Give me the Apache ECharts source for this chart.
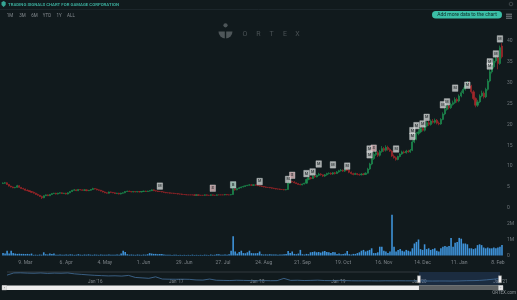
<!DOCTYPE html>
<html><head><meta charset="utf-8">
<script src="https://cdn.jsdelivr.net/npm/echarts/dist/echarts.min.js"></script>
<style>html,body{margin:0;padding:0;background:#111a1d;}#c{width:517px;height:300px;}</style>
</head><body><div id="c"></div>
<script>
// ---------- DATA ----------
const titleText = 'TRADING SIGNALS CHART FOR GAMAGE CORPORATION';
const rangeButtons = ['1M','3M','6M','YTD','1Y','ALL'];
const holidays = ['2020-04-10','2020-05-25','2020-07-03','2020-09-07','2020-11-26','2020-12-25','2021-01-01','2021-01-18'];
const startDate = '2020-02-21';
const tickDates = ['2020-03-09','2020-04-06','2020-05-04','2020-06-01','2020-06-29','2020-07-27','2020-08-24','2020-09-21','2020-10-19','2020-11-16','2020-12-14','2021-01-11','2021-02-08'];
const tickLabels = ['9. Mar','6. Apr','4. May','1. Jun','29. Jun','27. Jul','24. Aug','21. Sep','19. Oct','16. Nov','14. Dec','11. Jan','8. Feb'];

const open = [
5.8,5.9,6.0,5.6,5.2,5.0,4.8,4.9,5.3,4.9,
4.6,4.5,4.2,4.1,3.9,3.7,3.5,3.2,3.0,2.7,
2.4,2.9,3.1,2.9,3.2,3.4,3.5,3.3,3.5,3.6,
3.4,3.5,3.3,3.6,3.9,4.2,4.3,4.1,4.4,4.3,
4.2,4.3,4.1,4.2,4.4,4.6,4.5,4.3,4.2,4.0,
3.8,3.6,3.5,3.8,3.7,3.6,3.4,3.5,3.3,3.5,
3.6,3.9,4.0,3.9,3.8,3.9,3.8,3.9,3.8,3.9,
4.0,3.9,4.0,4.1,4.3,4.1,4.0,3.9,3.9,3.8,
3.7,3.6,3.6,3.5,3.5,3.4,3.4,3.3,3.3,3.2,
3.2,3.1,3.1,3.1,3.1,3.0,3.1,3.0,3.0,3.0,
3.1,3.0,3.0,3.1,3.0,3.0,3.1,3.1,3.1,3.1,
3.2,3.1,3.1,3.2,4.5,4.3,4.6,4.8,5.0,5.1,
5.3,5.4,5.5,5.4,5.5,5.4,5.3,5.2,5.1,5.0,
4.9,4.9,4.8,4.7,4.6,4.5,4.5,4.4,4.4,4.3,
4.4,5.9,6.3,6.2,6.0,5.8,5.6,5.5,5.7,5.9,
6.8,7.2,7.0,7.6,7.4,7.8,8.1,7.9,7.6,7.9,
8.2,8.3,8.1,8.4,8.2,8.6,8.9,9.0,8.8,9.2,
9.0,8.5,8.2,8.0,8.2,8.0,7.9,8.1,8.0,8.3,
9.3,10.5,11.8,12.8,13.2,12.6,13.5,14.2,13.8,14.5,
14.0,13.6,12.4,12.0,11.6,12.3,12.9,13.4,13.2,13.6,
13.4,13.8,15.8,16.5,17.8,18.2,19.0,18.6,19.6,20.4,
20.0,20.8,20.5,21.0,20.3,20.1,21.2,22.5,23.6,24.4,
24.0,24.8,25.2,26.0,25.6,26.8,27.6,28.4,29.3,29.9,
29.2,27.8,26.2,24.6,25.4,26.8,27.5,26.6,28.4,30.4,
32.6,33.8,35.2,35.9,34.6,38.8];
const close = [
5.9,6.0,5.6,5.2,5.0,4.8,4.9,5.3,4.9,4.6,
4.5,4.2,4.1,3.9,3.7,3.5,3.2,3.0,2.7,2.4,
2.9,3.1,2.9,3.2,3.4,3.5,3.3,3.5,3.6,3.4,
3.5,3.3,3.6,3.9,4.2,4.3,4.1,4.4,4.3,4.2,
4.3,4.1,4.2,4.4,4.6,4.5,4.3,4.2,4.0,3.8,
3.6,3.5,3.8,3.7,3.6,3.4,3.5,3.3,3.5,3.6,
3.9,4.0,3.9,3.8,3.9,3.8,3.9,3.8,3.9,4.0,
3.9,4.0,4.1,4.3,4.1,4.0,3.9,3.9,3.8,3.7,
3.6,3.6,3.5,3.5,3.4,3.4,3.3,3.3,3.2,3.2,
3.1,3.1,3.1,3.1,3.0,3.1,3.0,3.0,3.0,3.1,
3.0,3.0,3.1,3.0,3.0,3.1,3.1,3.1,3.1,3.2,
3.1,3.1,3.2,4.5,4.3,4.6,4.8,5.0,5.1,5.3,
5.4,5.5,5.4,5.5,5.4,5.3,5.2,5.1,5.0,4.9,
4.9,4.8,4.7,4.6,4.5,4.5,4.4,4.4,4.3,4.4,
5.9,6.3,6.2,6.0,5.8,5.6,5.5,5.7,5.9,6.8,
7.2,7.0,7.6,7.4,7.8,8.1,7.9,7.6,7.9,8.2,
8.3,8.1,8.4,8.2,8.6,8.9,9.0,8.8,9.2,9.0,
8.5,8.2,8.0,8.2,8.0,7.9,8.1,8.0,8.3,9.3,
10.5,11.8,12.8,13.2,12.6,13.5,14.2,13.8,14.5,14.0,
13.6,12.4,12.0,11.6,12.3,12.9,13.4,13.2,13.6,13.4,
13.8,15.8,16.5,17.8,18.2,19.0,18.6,19.6,20.4,20.0,
20.8,20.5,21.0,20.3,20.1,21.2,22.5,23.6,24.4,24.0,
24.8,25.2,26.0,25.6,26.8,27.6,28.4,29.3,29.9,29.2,
27.8,26.2,24.6,25.4,26.8,27.5,26.6,28.4,30.4,32.6,
33.8,35.2,35.9,34.6,38.4,36.2];
const high = [
6.1,6.2,6.1,5.7,5.3,5.1,5.0,5.5,5.4,5.0,
4.8,4.6,4.4,4.2,4.0,3.9,3.6,3.4,3.1,2.9,
3.0,3.2,3.2,3.3,3.5,3.6,3.6,3.6,3.7,3.7,
3.6,3.6,3.7,4.0,4.3,4.5,4.4,4.5,4.5,4.4,
4.4,4.4,4.3,4.5,4.8,4.7,4.6,4.4,4.3,4.1,
3.9,3.7,3.9,3.9,3.8,3.7,3.6,3.6,3.6,3.7,
4.0,4.1,4.1,4.0,4.0,4.0,4.0,4.0,4.0,4.1,
4.1,4.1,4.2,4.4,4.4,4.2,4.1,4.0,4.0,3.9,
3.8,3.7,3.7,3.6,3.6,3.5,3.5,3.4,3.4,3.3,
3.3,3.2,3.2,3.2,3.2,3.2,3.2,3.1,3.1,3.2,
3.2,3.1,3.2,3.2,3.1,3.2,3.2,3.2,3.2,3.3,
3.3,3.2,3.3,4.7,4.6,4.8,5.0,5.1,5.3,5.4,
5.5,5.7,5.6,5.6,5.6,5.5,5.4,5.3,5.2,5.1,
5.0,5.0,4.9,4.8,4.7,4.6,4.6,4.5,4.5,4.5,
6.1,6.6,6.5,6.4,6.1,5.9,5.8,5.8,6.0,7.0,
7.5,7.4,7.8,7.8,8.0,8.4,8.3,8.0,8.1,8.4,
8.5,8.5,8.6,8.6,8.8,9.1,9.3,9.2,9.4,9.5,
9.1,8.7,8.4,8.4,8.3,8.2,8.3,8.3,8.5,9.6,
10.8,12.2,13.3,13.8,13.6,13.9,14.8,14.6,15.0,14.9,
14.3,13.8,12.8,12.3,12.5,13.1,13.7,13.7,13.9,13.9,
14.1,16.2,16.9,18.2,18.8,19.4,19.3,19.9,20.8,20.9,
21.2,21.3,21.4,21.3,20.7,21.5,22.9,24.0,24.9,24.8,
25.2,25.7,26.5,26.4,27.2,28.1,28.9,29.8,30.4,30.3,
29.5,28.2,26.5,25.9,27.2,28.1,27.9,28.8,30.9,33.2,
34.5,35.8,36.6,36.3,38.9,39.5];
const low = [
5.7,5.8,5.5,5.1,4.9,4.7,4.7,4.8,4.8,4.5,
4.4,4.1,4.0,3.8,3.6,3.4,3.1,2.9,2.6,2.1,
2.3,2.8,2.8,2.8,3.1,3.3,3.2,3.2,3.4,3.3,
3.3,3.2,3.2,3.5,3.8,4.1,4.0,4.0,4.2,4.1,
4.1,4.0,4.0,4.1,4.3,4.4,4.2,4.1,3.9,3.7,
3.5,3.4,3.4,3.6,3.5,3.3,3.3,3.2,3.2,3.4,
3.5,3.8,3.8,3.7,3.7,3.7,3.7,3.7,3.7,3.8,
3.8,3.8,3.9,4.0,4.0,3.9,3.8,3.8,3.7,3.6,
3.5,3.5,3.4,3.4,3.3,3.3,3.2,3.2,3.1,3.1,
3.0,3.0,3.0,3.0,2.9,2.9,2.9,2.9,2.9,2.9,
2.9,2.9,2.9,2.9,2.9,2.9,3.0,3.0,3.0,3.0,
3.0,3.0,3.0,3.1,4.1,4.2,4.5,4.7,4.9,5.0,
5.2,5.3,5.3,5.3,5.3,5.2,5.1,5.0,4.9,4.8,
4.8,4.7,4.6,4.5,4.4,4.4,4.3,4.3,4.2,4.2,
4.3,5.7,6.0,5.9,5.7,5.5,5.4,5.4,5.6,5.8,
6.6,6.8,6.9,7.2,7.3,7.6,7.7,7.4,7.4,7.7,
8.0,7.9,7.9,8.0,8.1,8.4,8.7,8.6,8.6,8.8,
8.3,8.0,7.8,7.9,7.8,7.7,7.8,7.8,7.9,8.2,
9.1,10.2,11.5,12.4,12.2,12.3,13.2,13.4,13.5,13.7,
13.4,12.2,11.8,11.3,11.4,12.1,12.7,13.0,13.0,13.2,
13.2,13.6,15.5,16.2,17.4,17.9,18.3,18.3,19.3,19.6,
19.7,20.2,20.2,20.0,19.8,19.9,21.0,22.2,23.3,23.6,
23.7,24.5,24.9,25.2,25.3,26.5,27.3,28.1,28.9,28.8,
27.4,25.8,24.1,24.2,25.1,26.5,26.2,26.3,28.1,30.1,
32.2,33.4,34.8,33.2,34.3,35.8];
// volume in millions
const volume = [
0.15,0.12,0.3,0.12,0.3,0.15,0.12,0.1,0.11,0.1,
0.1,0.09,0.1,0.08,0.12,0.04,0.05,0.04,0.06,0.05,
0.2,0.08,0.06,0.12,0.1,0.12,0.05,0.04,0.06,0.05,
0.04,0.06,0.05,0.07,0.06,0.04,0.05,0.08,0.05,0.04,
0.06,0.05,0.07,0.05,0.04,0.06,0.05,0.04,0.06,0.05,
0.04,0.05,0.06,0.04,0.05,0.04,0.06,0.05,0.12,0.3,
0.22,0.08,0.05,0.06,0.05,0.04,0.06,0.05,0.04,0.06,
0.05,0.08,0.15,0.12,0.1,0.1,0.08,0.1,0.09,0.06,
0.05,0.04,0.05,0.03,0.04,0.05,0.03,0.04,0.03,0.04,
0.03,0.04,0.03,0.05,0.03,0.04,0.03,0.04,0.03,0.05,
0.04,0.03,0.06,0.04,0.05,0.08,0.08,0.04,0.05,0.06,
0.05,0.08,0.3,1.2,0.25,0.12,0.22,0.3,0.15,0.14,
0.2,0.3,0.15,0.14,0.14,0.15,0.25,0.08,0.06,0.07,
0.06,0.08,0.06,0.07,0.06,0.05,0.07,0.06,0.08,0.1,
0.28,0.15,0.25,0.1,0.08,0.12,0.35,0.08,0.06,0.1,
0.08,0.2,0.22,0.25,0.2,0.22,0.18,0.25,0.28,0.22,
0.2,0.15,0.22,0.2,0.1,0.12,0.08,0.1,0.12,0.28,
0.08,0.06,0.1,0.1,0.15,0.2,0.3,0.35,0.25,0.3,
0.35,0.45,0.15,0.15,0.2,0.55,0.55,0.3,0.25,0.15,
0.25,2.55,0.55,0.25,0.35,0.4,0.3,0.25,0.35,0.3,
0.25,0.45,0.75,0.85,1.0,0.4,0.35,0.7,0.4,0.45,
0.35,0.4,0.45,0.3,0.25,0.45,0.55,0.6,0.55,0.6,
1.1,0.55,0.8,0.85,1.1,1.05,0.75,0.75,0.7,0.45,
0.45,0.4,0.45,0.65,0.7,0.65,0.5,0.45,0.5,0.45,
0.45,0.5,0.45,0.5,0.55,0.65];
// trading signal flags: day index, price level of flag, type
const signalIdx   = [77,103,113,126,140,142,149,152,155,162,169,180,180,182,193,201,201,203,206,208,216,218,222,228,239,239,242,244];
const signalPrice = [5.2,4.7,5.5,6.3,6.8,7.8,8.2,8.6,10.5,10.3,10.0,12.7,14.1,14.3,14.1,18.5,17.1,19.7,20.1,21.7,24.7,25.4,28.7,29.4,35.0,34.0,36.9,40.5];
const signalType  = ['M','S','B','M','M','S','M','M','M','M','M','M','M','S','M','M','M','M','M','M','M','M','M','M','M','M','M','M'];
// navigator (monthly, Jan 2015 - Feb 2021)
const navStart = [2015, 1];
const navValues = [83,112,114,110,108,112,106,110,108,112,100,93,86,80,76,72,74,70,79,52,46,40,60,30,28,27,28,26,18,16,30,14,12,10,14,12,10,8,10,8,9,39,12,14,10,12,15,10,9,12,10,7,6,7,6,5,7,6,7,6,6,5,4,3,4,4,3,5,8,9,12,19,28,38];
const navTickDates = ['2016-01','2017-01','2018-01','2019-01','2020-01','2021-01'];
const navTickLabels = ["Jan '16","Jan '17","Jan '18","Jan '19","Jan '20","Jan '21"];
const navWindow = ['2020-02','2021-02'];

// ---------- BUILD ----------
const dates = [];
{
  let t = Date.parse(startDate + 'T00:00:00Z');
  while (dates.length < close.length) {
    const d = new Date(t);
    const wd = d.getUTCDay();
    const s = d.toISOString().slice(0, 10);
    if (wd !== 0 && wd !== 6 && holidays.indexOf(s) < 0) dates.push(s);
    t += 86400000;
  }
}
const navMonths = navValues.map((_, m) => {
  const y = navStart[0] + Math.floor((navStart[1] - 1 + m) / 12);
  const mo = (navStart[1] - 1 + m) % 12 + 1;
  return y + '-' + (mo < 10 ? '0' : '') + mo;
});
const ohlc = dates.map((_, i) => [open[i], close[i], low[i], high[i]]);
const flagColors = { M: '#cdd1d1', S: '#dcb6ba', B: '#b6ddd0' };
const flags = signalIdx.map((ix, k) => ({
  value: [dates[ix], signalPrice[k]],
  itemStyle: { color: flagColors[signalType[k]], borderColor: '#eef2f2', borderWidth: 0.4 },
  label: { formatter: signalType[k] }
}));

const UP = '#1d8a4e', DOWN = '#a1262a';
const FONT = 'Roboto, "DejaVu Sans", sans-serif';
const chart = echarts.init(document.getElementById('c'), null, { width: 517, height: 300 });
chart.setOption({
  backgroundColor: '#111a1d',
  animation: false,
  textStyle: { fontFamily: FONT },
  grid: [
    { left: 2, right: 14, top: 41, height: 166.8, containLabel: false, outerBoundsMode: 'none' },
    { left: 2, right: 14, top: 211.5, height: 44, containLabel: false, outerBoundsMode: 'none' },
    { left: 7, right: 17, top: 272, height: 13, containLabel: false, outerBoundsMode: 'none' }
  ],
  xAxis: [
    { type: 'category', gridIndex: 0, data: dates, boundaryGap: true, show: false },
    { type: 'category', gridIndex: 1, data: dates, boundaryGap: true,
      axisLine: { show: false }, axisTick: { show: false }, splitLine: { show: false },
      axisLabel: { interval: (i, v) => tickDates.indexOf(v) >= 0, formatter: v => tickLabels[tickDates.indexOf(v)] || '',
        color: '#7c8388', fontSize: 5, margin: 5, fontFamily: FONT, hideOverlap: false } },
    { type: 'category', gridIndex: 2, data: navMonths, boundaryGap: false,
      axisLine: { show: false }, axisTick: { show: false }, splitLine: { show: false },
      axisLabel: { inside: true, margin: 0.5, interval: (i, v) => navTickDates.indexOf(v) >= 0,
        formatter: v => navTickLabels[navTickDates.indexOf(v)] || '', align: 'left',
        color: '#80878c', fontSize: 4.5, fontFamily: FONT, hideOverlap: false } }
  ],
  yAxis: [
    { type: 'value', gridIndex: 0, position: 'right', min: 0, max: 40, interval: 5,
      splitLine: { show: false }, axisLine: { show: false }, axisTick: { show: false },
      axisLabel: { color: '#6f767b', fontSize: 5, margin: 4, fontFamily: FONT } },
    { type: 'value', gridIndex: 1, position: 'right', min: 0, max: 2.75, interval: 1,
      splitLine: { show: false }, axisLine: { show: false }, axisTick: { show: false },
      axisLabel: { color: '#6f767b', fontSize: 5, margin: 4, fontFamily: FONT, showMaxLabel: false,
        formatter: v => v === 0 ? '0' : (Math.abs(v - Math.round(v)) < 1e-9 ? Math.round(v) + 'M' : '') } },
    { type: 'value', gridIndex: 2, min: -50, max: 125, show: false }
  ],
  series: [
    { type: 'candlestick', xAxisIndex: 0, yAxisIndex: 0, data: ohlc, barWidth: 1.6,
      itemStyle: { color: UP, color0: DOWN, borderColor: UP, borderColor0: DOWN, borderColorDoji: DOWN, borderWidth: 0.7 } },
    { type: 'bar', xAxisIndex: 1, yAxisIndex: 1, data: volume, barWidth: 1.6,
      itemStyle: { color: '#3e92d8' } },
    { type: 'scatter', xAxisIndex: 0, yAxisIndex: 0, data: flags, symbol: 'rect', symbolSize: [5.5, 6.5], clip: false, z: 5,
      label: { show: true, position: 'inside', fontSize: 3.8, fontWeight: 'bold', color: '#1c2326', fontFamily: FONT } },
    { type: 'line', xAxisIndex: 2, yAxisIndex: 2, data: navValues, symbol: 'none', clip: false,
      lineStyle: { color: '#44709c', width: 0.8 },
      markArea: { silent: true, itemStyle: { color: 'rgba(60,100,170,0.25)' },
        data: [[{ xAxis: navWindow[0] }, { xAxis: navWindow[1] }]] },
      markPoint: { silent: true, symbol: 'rect', symbolSize: [3, 7], label: { show: false },
        itemStyle: { color: '#f2f2f2', borderColor: '#8a8a8a', borderWidth: 0.5 },
        data: [{ coord: [navWindow[0], 27] }, { coord: [navWindow[1], 27] }] } }
  ]
});

// ---------- DECORATION (header, watermark, scrollbar) ----------
const x0 = chart.convertToPixel({ xAxisIndex: 2 }, navWindow[0]);
const x1 = chart.convertToPixel({ xAxisIndex: 2 }, navWindow[1]);
const g = [];
g.push({ type: 'line', shape: { x1: 0, y1: 9.5, x2: 517, y2: 9.5 }, style: { stroke: '#1f2a2e', lineWidth: 0.8 }, silent: true });
g.push({ type: 'polygon', shape: { points: [[1.5, 2.2], [3.6, 1], [5.7, 2.2], [5.7, 5], [3.6, 7], [1.5, 5]] }, style: { fill: '#35a594' }, silent: true });
g.push({ type: 'text', x: 8, y: 4.6, style: { text: titleText, fill: '#3aa898', font: 'bold 4.3px ' + FONT, verticalAlign: 'middle' }, silent: true });
const btnX = [10, 22.5, 34.5, 47, 59, 71];
rangeButtons.forEach((b, k) => g.push({ type: 'text', x: btnX[k], y: 15.5,
  style: { text: b, fill: '#858b90', font: '4.5px ' + FONT, align: 'center', verticalAlign: 'middle' }, silent: true }));
g.push({ type: 'rect', shape: { x: 432, y: 11, width: 70, height: 7.5, r: 3.75 }, style: { fill: '#3bbfa7' }, silent: true });
g.push({ type: 'text', x: 467, y: 14.9, style: { text: 'Add more data to the chart', fill: '#0c2c27', font: '5px ' + FONT, align: 'center', verticalAlign: 'middle' }, silent: true });
[14.2, 16.2, 18.2].forEach(y => g.push({ type: 'line', shape: { x1: 506, y1: y, x2: 512, y2: y }, style: { stroke: '#9aa0a4', lineWidth: 0.8 }, silent: true }));
g.push({ type: 'circle', shape: { cx: 511, cy: 4, r: 1.8 }, style: { fill: 'none', stroke: '#5a6266', lineWidth: 0.6 }, silent: true });
// ORTEX watermark
g.push({ type: 'circle', shape: { cx: 225.5, cy: 25.3, r: 2.1 }, style: { fill: '#4e5659' }, silent: true });
g.push({ type: 'sector', shape: { cx: 225.5, cy: 31.5, r: 7, r0: 0, startAngle: 0, endAngle: Math.PI }, style: { fill: '#4e5659' }, silent: true });
g.push({ type: 'rect', shape: { x: 224.8, y: 28.5, width: 1.4, height: 11 }, style: { fill: '#111a1d' }, silent: true });
const ortexLetters = ['O', 'R', 'T', 'E', 'X'];
const ortexX = [245, 258.5, 271.5, 285, 297.5];
ortexLetters.forEach((L, k) => g.push({ type: 'text', x: ortexX[k], y: 34.3,
  style: { text: L, fill: '#4b5356', font: '7px ' + FONT, align: 'center', verticalAlign: 'middle' }, silent: true }));
// navigator outline & scrollbar
g.push({ type: 'line', shape: { x1: 7, y1: 272, x2: x0, y2: 272 }, style: { stroke: '#3a4346', lineWidth: 0.8 }, silent: true });
g.push({ type: 'rect', shape: { x: 2, y: 285.5, width: 501, height: 4.5 }, style: { fill: '#eeeeee' }, silent: true });
g.push({ type: 'rect', shape: { x: x0, y: 285.5, width: x1 - x0, height: 4.5 }, style: { fill: '#5d6163' }, silent: true });
g.push({ type: 'rect', shape: { x: 2, y: 285.5, width: 4.5, height: 4.5 }, style: { fill: '#e4e4e4', stroke: '#bbbbbb', lineWidth: 0.4 }, silent: true });
g.push({ type: 'rect', shape: { x: 498.5, y: 285.5, width: 4.5, height: 4.5 }, style: { fill: '#e4e4e4', stroke: '#bbbbbb', lineWidth: 0.4 }, silent: true });
g.push({ type: 'text', x: 4.25, y: 287.8, style: { text: '‹', fill: '#555', font: '4px ' + FONT, align: 'center', verticalAlign: 'middle' }, silent: true });
g.push({ type: 'text', x: 500.75, y: 287.8, style: { text: '›', fill: '#555', font: '4px ' + FONT, align: 'center', verticalAlign: 'middle' }, silent: true });
g.push({ type: 'text', x: 516, y: 293, style: { text: 'ORTEX.com', fill: '#8e9599', font: '4.5px ' + FONT, align: 'right', verticalAlign: 'middle' }, silent: true });
chart.setOption({ graphic: g });
</script></body></html>
